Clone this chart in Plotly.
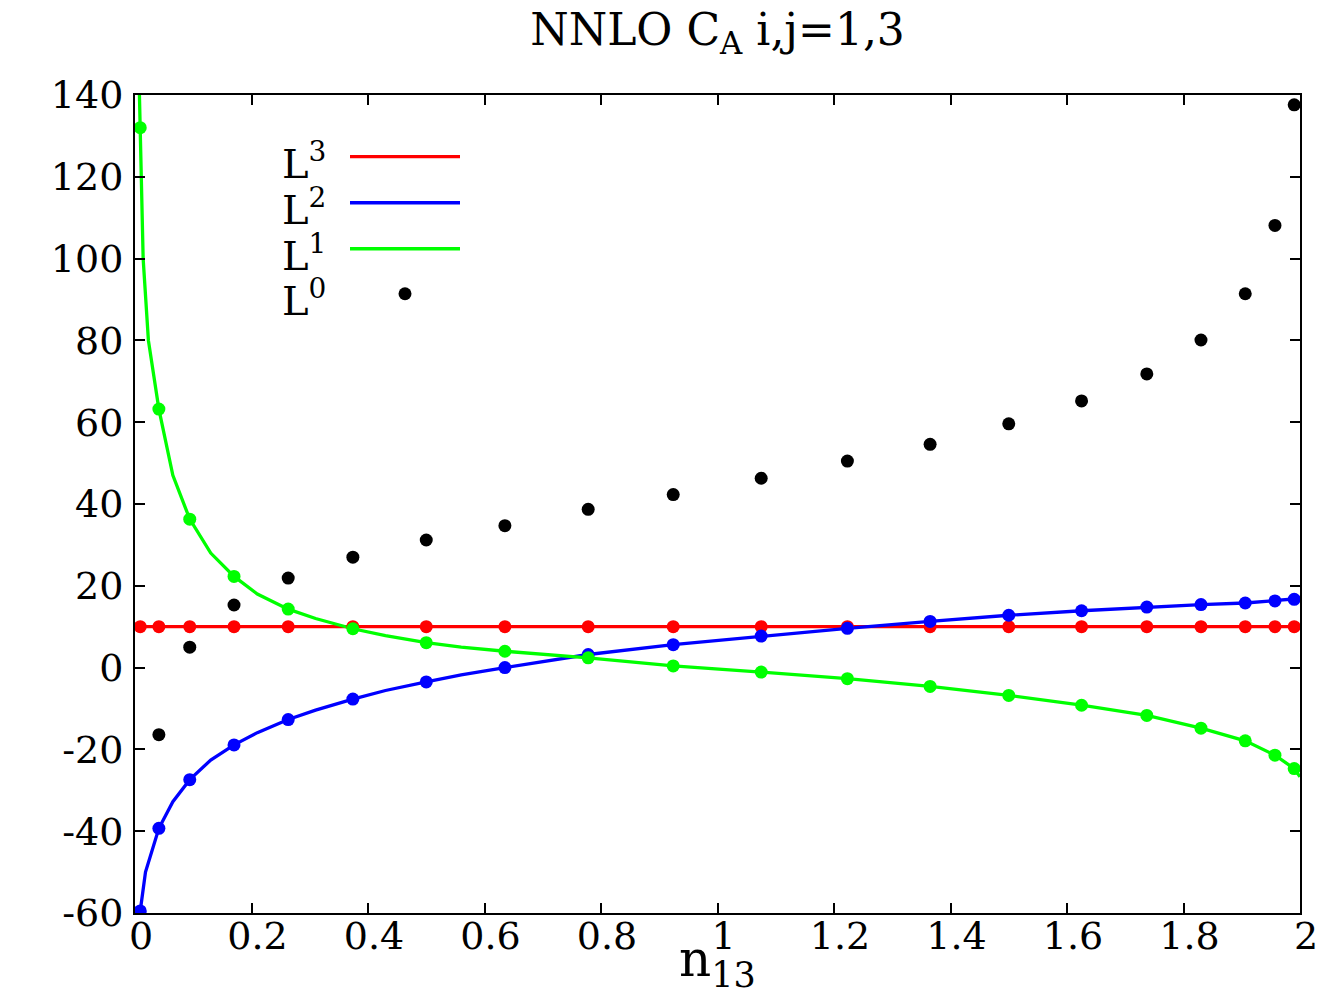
import plotly.graph_objects as go

# Sample nodes (n13)
x_nodes = [0.009, 0.041, 0.094, 0.170, 0.263, 0.374, 0.500, 0.635, 0.778, 0.924,
           1.075, 1.223, 1.365, 1.500, 1.625, 1.737, 1.830, 1.906, 1.957, 1.990]

# Coefficients at the nodes
L3_pts = [10, 10, 10, 10, 10, 10, 10, 10, 10, 10, 10, 10, 10, 10, 10, 10, 10, 10, 10, 10]
L2_pts = [-59.5, -39.3, -27.4, -18.9, -12.7, -7.7, -3.5, 0.0, 3.2, 5.6,
          7.7, 9.6, 11.3, 12.8, 13.9, 14.8, 15.4, 15.8, 16.3, 16.7]
L1_pts = [132.0, 63.2, 36.3, 22.3, 14.3, 9.5, 6.1, 4.0, 2.4, 0.4,
          -1.1, -2.7, -4.6, -6.8, -9.2, -11.7, -14.8, -17.9, -21.4, -24.7]
L0_pts = [None, -16.4, 5.0, 15.3, 21.9, 27.0, 31.2, 34.7, 38.7, 42.3,
          46.3, 50.5, 54.6, 59.6, 65.2, 71.8, 80.1, 91.4, 108.1, 137.6]

# Continuous curves
L3_line_x = [0.0, 2.0]
L3_line_y = [10, 10]
L2_line_x = [0.009, 0.018, 0.041, 0.065, 0.094, 0.13, 0.170, 0.21, 0.263, 0.31,
             0.374, 0.43, 0.500, 0.56, 0.635, 0.778, 0.924, 1.075, 1.223, 1.365,
             1.500, 1.625, 1.737, 1.830, 1.906, 1.957, 1.990, 2.0]
L2_line_y = [-59.5, -50.0, -39.3, -32.8, -27.4, -22.6, -18.9, -15.9, -12.7, -10.4,
             -7.7, -5.6, -3.5, -1.8, 0.0, 3.2, 5.6, 7.7, 9.6, 11.3,
             12.8, 13.9, 14.8, 15.4, 15.8, 16.3, 16.7, 16.9]
L1_line_x = [0.006, 0.009, 0.014, 0.023, 0.041, 0.065, 0.094, 0.13, 0.170, 0.21,
             0.263, 0.31, 0.374, 0.43, 0.500, 0.56, 0.635, 0.778, 0.924, 1.075,
             1.223, 1.365, 1.500, 1.625, 1.737, 1.830, 1.906, 1.957, 1.990, 2.0]
L1_line_y = [150.0, 132.0, 100.0, 80.0, 63.2, 47.0, 36.3, 28.0, 22.3, 18.0,
             14.3, 12.0, 9.5, 7.8, 6.1, 5.0, 4.0, 2.4, 0.4, -1.1,
             -2.7, -4.6, -6.8, -9.2, -11.7, -14.8, -17.9, -21.4, -24.7, -26.7]

x_tickvals = [0, 0.2, 0.4, 0.6, 0.8, 1, 1.2, 1.4, 1.6, 1.8, 2]
x_ticktext = ["0", "0.2", "0.4", "0.6", "0.8", "1", "1.2", "1.4", "1.6", "1.8", "2"]
y_tickvals = [-60, -40, -20, 0, 20, 40, 60, 80, 100, 120, 140]
y_ticktext = ["-60", "-40", "-20", "0", "20", "40", "60", "80", "100", "120", "140"]

legend_labels = ["L<sup>3</sup>", "L<sup>2</sup>", "L<sup>1</sup>", "L<sup>0</sup>"]

RED, BLUE, GREEN, BLACK = "#ff0000", "#0000ff", "#00ff00", "#000000"
FONT = "DejaVu Serif"
MS = 13
LW = 3.3

fig = go.Figure()
# lines
fig.add_trace(go.Scatter(x=L3_line_x, y=L3_line_y, mode="lines", line=dict(color=RED, width=LW), showlegend=False))
fig.add_trace(go.Scatter(x=L2_line_x, y=L2_line_y, mode="lines", line=dict(color=BLUE, width=LW), showlegend=False))
fig.add_trace(go.Scatter(x=L1_line_x, y=L1_line_y, mode="lines", line=dict(color=GREEN, width=LW), showlegend=False))
# points
fig.add_trace(go.Scatter(x=x_nodes, y=L3_pts, mode="markers", marker=dict(color=RED, size=MS), showlegend=False))
fig.add_trace(go.Scatter(x=x_nodes, y=L2_pts, mode="markers", marker=dict(color=BLUE, size=MS), showlegend=False))
fig.add_trace(go.Scatter(x=x_nodes, y=L1_pts, mode="markers", marker=dict(color=GREEN, size=MS), showlegend=False))
fig.add_trace(go.Scatter(x=x_nodes, y=L0_pts, mode="markers", marker=dict(color=BLACK, size=MS), showlegend=False))

# custom legend (labels left, samples right), placed in paper coordinates
W, H = 1165.0, 817.7
def px2paper(px, py):
    return (px - 135) / W, (913 - py) / H

row_y = [157, 203, 249, 294]
colors = [RED, BLUE, GREEN, BLACK]
for lab, ry, col in zip(legend_labels, row_y, colors):
    lx, ly = px2paper(328, ry + 4)
    fig.add_annotation(x=lx, y=ly, xref="paper", yref="paper", text=lab, showarrow=False,
                       xanchor="right", yanchor="middle", font=dict(family=FONT, size=40, color="black"))
    if col != BLACK:
        x0, y0 = px2paper(350, ry)
        x1, _ = px2paper(460, ry)
        fig.add_shape(type="line", xref="paper", yref="paper", x0=x0, x1=x1, y0=y0, y1=y0,
                      line=dict(color=col, width=LW))
    else:
        cx, cy = px2paper(405, ry)
        r = 6.5
        fig.add_shape(type="circle", xref="paper", yref="paper",
                      x0=cx - r / W, x1=cx + r / W, y0=cy - r / H, y1=cy + r / H,
                      fillcolor=BLACK, line=dict(color=BLACK, width=0))

# x-axis title placed as an annotation just below the tick labels
tx, ty = px2paper(716, 962)
fig.add_annotation(x=0.5, y=ty, xref="paper", yref="paper", text="n<sub>13</sub>", showarrow=False,
                   xanchor="center", yanchor="middle", font=dict(family=FONT, size=50, color="black"))

axis_common = dict(showline=True, linecolor="black", linewidth=2, mirror="ticks",
                   ticks="inside", ticklen=10, tickwidth=2, tickcolor="black",
                   showgrid=False, zeroline=False, automargin=False,
                   tickfont=dict(family=FONT, size=38, color="black"))

fig.update_layout(
    width=1334, height=1000,
    margin=dict(l=135, r=34, t=95, b=87),
    paper_bgcolor="white", plot_bgcolor="white",
    title=dict(text="NNLO C<sub>A</sub> i,j=1,3", x=(135 + 1300) / 2 / 1334, xanchor="center",
               y=1 - 14 / 1000, yanchor="top", yref="container", automargin=False,
               font=dict(family=FONT, size=44, color="black")),
    xaxis=dict(range=[0, 2], tickvals=x_tickvals, ticktext=x_ticktext,
               ticklabelstandoff=-12, ticklabelshift=6,
               **axis_common),
    yaxis=dict(range=[-60, 140], tickvals=y_tickvals, ticktext=y_ticktext,
               ticklabelstandoff=2, **axis_common),
)

fig.write_html("out.html")
